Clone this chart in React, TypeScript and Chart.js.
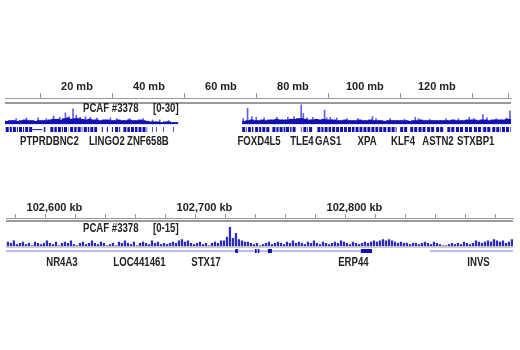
import React, { useEffect, useRef } from "react";
import { Chart, registerables } from "chart.js";
Chart.register(...registerables);

const FONT = "'Liberation Sans', Arial, Helvetica, sans-serif";
const TEXT_SQUEEZE = 0.8; // condensed look of the original lettering

// ---------- TOP PANEL (whole chromosome, mb) ----------
const TOP_X_MIN = 0;
const TOP_X_MAX = 140.6;
const TOP_MINOR_TICKS = [10, 30, 50, 70, 90, 110, 130, 140];
const TOP_LABEL_TICKS = [20, 40, 60, 80, 100, 120];
const TOP_TRACK = "PCAF #3378";
const TOP_DATA_RANGE = "[0-30]";
// 1 mb bins starting at 0 mb
const TOP_SIGNAL = [
  4, 5, 5, 4, 5, 6, 5, 5, 4, 5,
  5, 5, 6, 7, 7, 6, 8, 9, 7, 8,
  8, 7, 6, 7, 6, 6, 5, 6, 6, 5,
  5, 6, 5, 5, 6, 5, 5, 6, 5, 4,
  3, 3, 3, 2, 3, 3, 2, 2,
  null, null, null, null, null, null, null, null, null, null, null, null, null, null, null, null, null, null,
  4, 5, 6, 5,
  5, 6, 5, 6, 6, 7, 6, 6, 6, 7,
  7, 8, 8, 7, 6, 6, 7, 6, 7, 6,
  6, 6, 5, 5, 6, 5, 5, 5, 6, 5,
  5, 6, 5, 5, 5, 4, 5, 5, 5, 5,
  5, 5, 4, 5, 5, 6, 5, 5, 5, 5,
  5, 5, 5, 5, 6, 5, 5, 5, 6, 6,
  6, 5, 6, 6, 5, 6, 6, 6, 6, 7, 7,
];
// narrow peaks: [mb, value]
const TOP_PEAKS = [
  [3.1, 8], [6.0, 9], [9.2, 9], [11.5, 8], [13.5, 12], [15.2, 10], [16.8, 17], [17.7, 11],
  [18.9, 23], [19.8, 13], [20.9, 10], [22.4, 11], [23.7, 10], [25.5, 9], [29.3, 9], [31.0, 8],
  [34.6, 8], [38.4, 8], [41.0, 6], [43.0, 6], [45.5, 5],
  [66.2, 8], [67.4, 24], [68.6, 11], [69.8, 10], [72.0, 9], [75.5, 10], [78.6, 10], [80.3, 11],
  [82.3, 29], [82.9, 16], [83.9, 9], [85.5, 10], [88.8, 21], [89.4, 9], [90.4, 10], [92.2, 9],
  [95.0, 8], [98.0, 8], [102.1, 11], [103.1, 8], [107.0, 8], [111.0, 7], [114.0, 10], [114.9, 8],
  [118.0, 7], [122.5, 8], [126.0, 8], [129.0, 10], [130.3, 8], [132.8, 14], [133.9, 9],
  [136.5, 8], [139.4, 9], [140.3, 20],
];
const TOP_GENES = [
  [0.2, 1.9], [2.2, 3.6], [3.9, 5.3], [5.6, 7.6],
  [10.8, 11.2],
  [12.6, 14.4], [14.7, 16.1], [16.4, 17.6],
  [18.1, 19.9], [20.2, 21.5],
  [21.9, 23.4], [23.7, 25.6],
  [26.9, 27.2], [28.3, 28.6], [29.7, 30.0],
  [30.6, 32.0],
  [32.9, 34.7], [35.0, 36.8], [37.1, 39.5],
  [40.9, 41.1], [42.0, 42.2], [43.9, 44.1], [46.7, 46.9],
  [65.9, 67.2], [67.5, 69.0], [69.5, 71.2], [71.5, 73.7], [74.3, 76.0], [76.3, 77.9], [78.1, 79.6], [79.9, 80.9],
  [82.2, 82.4], [82.9, 84.2], [84.5, 85.6],
  [86.8, 88.5], [88.8, 90.6], [90.9, 92.8], [93.1, 95.0], [95.3, 97.1], [97.4, 99.3], [99.6, 101.5],
  [101.8, 103.7], [104.0, 106.0], [106.3, 108.8],
  [109.8, 111.8],
  [112.6, 114.6], [114.9, 117.0], [117.3, 119.5], [119.8, 121.8],
  [122.9, 125.0], [125.3, 127.5], [127.8, 130.0], [130.3, 132.6], [132.9, 135.1], [135.4, 137.8], [138.1, 140.5],
];
const TOP_GENE_LINES = [[7.6, 10.4]];
const TOP_GENE_NAMES = ["PTPRD", "BNC2", "LINGO2", "ZNF658B", "FOXD4L5", "TLE4", "GAS1", "XPA", "KLF4", "ASTN2", "STXBP1"];
const TOP_GENE_LABEL_POS = [8.7, 16.9, 28.3, 39.7, 70.6, 82.5, 89.8, 100.6, 110.6, 120.3, 130.8];

// ---------- BOTTOM PANEL (zoomed region, kb) ----------
const BOT_X_MIN = 102567.7;
const BOT_X_MAX = 102905.7;
const BOT_MINOR_TICKS = [102574, 102594, 102614, 102634, 102654, 102674, 102694, 102714, 102734, 102754, 102774, 102794, 102814, 102834, 102854, 102874, 102894];
const BOT_LABEL_TICKS = [102600, 102700, 102800];
const BOT_TRACK = "PCAF #3378";
const BOT_DATA_RANGE = "[0-15]";
const BOT_SIGNAL_START = 102569; // kb, 2 kb bins
const BOT_SIGNAL = [
  3, 2, 4, 1, 2, 3, 1, 2, 0, 3, 2, 1, 2, 4, 2, 1, 3, 0, 2, 3,
  2, 4, 1, 0, 2, 3, 1, 2, 4, 2, 1, 3, 2, 0, 1, 2, 0, 3, 2, 4,
  2, 1, 3, 0, 2, 3, 2, 1, 4, 2, 3, 1, 2, 1, 2, 3, 2, 4, 5, 3,
  4, 2, 1, 2, 3, 1, 2, 0, 2, 3, 2, 4, 4, 7, 15, 6, 10, 5, 4, 3,
  3, 2, 1, 2, 0, 1, 2, 3, 1, 2, 3, 2, 1, 3, 2, 4, 2, 3, 2, 1,
  3, 2, 4, 2, 1, 3, 2, 1, 2, 3, 2, 4, 3, 2, 1, 3, 2, 1, 2, 3,
  2, 3, 4, 3, 4, 5, 4, 5, 4, 3, 2, 3, 2, 2, 1, 2, 2, 1, 2, 3,
  2, 1, 3, 2, 1, 0, 0, 1, 2, 1, 2, 1, 3, 2, 1, 2, 4, 3, 2, 3,
  4, 3, 5, 4, 3, 4, 2, 3, 5,
];
const BOT_EXONS = [
  [102720.5, 102722.3], [102733.7, 102734.8], [102735.6, 102736.6], [102742.3, 102745.0], [102804.3, 102811.7],
];
const BOT_GENE_LINES = [[102567.7, 102811.7], [102850.3, 102905.7]];
const BOT_GENE_NAMES = ["NR4A3", "LOC441461", "STX17", "ERP44", "INVS"];
const BOT_GENE_LABEL_POS = [102605, 102656.7, 102701, 102799.3, 102882.7];

const BLUE = "#1212b0";

const segs = (list: number[][], y: number) =>
  list.flatMap(([s, e]) => [{ x: s, y }, { x: e, y }, { x: e, y: null as any }]);

function squeezedText(ctx: CanvasRenderingContext2D, text: string, x: number, y: number, align: CanvasTextAlign) {
  ctx.save();
  ctx.translate(x, y);
  ctx.scale(TEXT_SQUEEZE, 1);
  ctx.textAlign = align;
  ctx.textBaseline = "middle";
  ctx.fillText(text, 0, 0);
  ctx.restore();
}

function decor(p: any) {
  return {
    id: "decor",
    beforeDatasetsDraw(chart: any) {
      const { ctx, chartArea: a, scales } = chart;
      ctx.save();
      ctx.fillStyle = "#9a9a9a";
      ctx.fillRect(a.left, a.top + p.ruleOffset, a.right - a.left, 2);
      if (p.baseline) {
        const y0 = Math.round(scales.y.getPixelForValue(0));
        ctx.fillStyle = "#cdcdcd";
        ctx.fillRect(a.left, y0, a.right - a.left, 2);
      }
      ctx.restore();
    },
    afterDraw(chart: any) {
      const { ctx, chartArea: a, scales } = chart;
      ctx.save();
      ctx.fillStyle = "#222";
      ctx.font = `bold 12px ${FONT}`;
      squeezedText(ctx, p.track, 83, a.top + 10.5, "left");
      squeezedText(ctx, p.range, 153, a.top + 10.5, "left");
      p.names.forEach((n: string, i: number) => {
        squeezedText(ctx, n, scales.x.getPixelForValue(p.namePos[i]), a.bottom + p.labelGap, "center");
      });
      ctx.restore();
    },
  };
}

function xScale(min: number, max: number, minor: number[], labels: number[], unit: string, tickLength: number, fmt: (v: number) => string) {
  return {
    type: "linear",
    position: "top",
    min,
    max,
    offset: false,
    afterBuildTicks: (s: any) => {
      s.ticks = [...minor, ...labels].sort((a, b) => a - b).map((v) => ({ value: v }));
    },
    grid: {
      offset: false,
      drawOnChartArea: false,
      drawTicks: true,
      tickLength,
      lineWidth: 1,
      color: (c: any) => (c.tick && labels.includes(c.tick.value) ? "rgba(0,0,0,0)" : "#999"),
    },
    border: { display: true, color: "#999", width: 1 },
    ticks: {
      autoSkip: false,
      maxRotation: 0,
      minRotation: 0,
      padding: 0,
      color: "#222",
      font: { family: FONT, size: 11, weight: "bold", lineHeight: 1.1 },
      callback: (v: number) => (labels.includes(v) ? `${fmt(v)} ${unit}` : ""),
    },
  };
}

function baseOptions(padding: any, x: any, yMin: number, yMax: number) {
  return {
    responsive: false,
    animation: false,
    devicePixelRatio: 1,
    events: [],
    layout: { padding },
    plugins: { legend: { display: false }, tooltip: { enabled: false } },
    scales: { x, y: { type: "linear", display: false, min: yMin, max: yMax } },
  };
}

function buildTop(canvas: HTMLCanvasElement) {
  const GENE_Y = -9;
  return new Chart(canvas, {
    type: "bar",
    data: {
      datasets: [
        {
          type: "line",
          data: segs(TOP_GENES, GENE_Y),
          borderColor: BLUE,
          borderWidth: 5,
          borderCapStyle: "butt",
          borderDash: [3, 1],
          pointRadius: 0,
          spanGaps: false,
          order: 0,
        } as any,
        {
          type: "line",
          data: segs(TOP_GENE_LINES, GENE_Y),
          borderColor: BLUE,
          borderWidth: 1,
          pointRadius: 0,
          spanGaps: false,
          order: 0,
        } as any,
        {
          type: "bar",
          data: TOP_SIGNAL.map((v, i) => ({ x: TOP_X_MIN + i + 0.5, y: v })),
          backgroundColor: BLUE,
          barThickness: 3.7,
          grouped: false,
          order: 1,
        } as any,
        {
          type: "bar",
          data: TOP_PEAKS.map(([x, y]) => ({ x, y })),
          backgroundColor: "rgba(30,30,205,0.7)",
          barThickness: 1,
          grouped: false,
          order: 2,
        } as any,
      ],
    },
    options: baseOptions(
      { left: 5, right: 9, top: 80.9, bottom: 41 },
      xScale(TOP_X_MIN, TOP_X_MAX, TOP_MINOR_TICKS, TOP_LABEL_TICKS, "mb", 5, (v) => String(v)),
      -15.75,
      39.75
    ) as any,
    plugins: [
      decor({ ruleOffset: 4, baseline: false, track: TOP_TRACK, range: TOP_DATA_RANGE, names: TOP_GENE_NAMES, namePos: TOP_GENE_LABEL_POS, labelGap: 8 }),
    ],
  });
}

function buildBottom(canvas: HTMLCanvasElement) {
  const GENE_Y = -4.34;
  return new Chart(canvas, {
    type: "bar",
    data: {
      datasets: [
        {
          type: "line",
          data: segs(BOT_EXONS, GENE_Y),
          borderColor: BLUE,
          borderWidth: 4,
          borderCapStyle: "butt",
          pointRadius: 0,
          spanGaps: false,
          order: 0,
        } as any,
        {
          type: "line",
          data: segs(BOT_GENE_LINES, GENE_Y),
          borderColor: "#7b7bf2",
          borderWidth: 1,
          pointRadius: 0,
          spanGaps: false,
          order: 1,
        } as any,
        {
          type: "bar",
          data: BOT_SIGNAL.map((v, i) => ({ x: BOT_SIGNAL_START + 2 * i, y: v })),
          backgroundColor: "rgba(20,20,185,0.9)",
          barThickness: 1.6,
          grouped: false,
          order: 1,
        } as any,
      ],
    },
    options: baseOptions(
      { left: 6, right: 7, top: 26.9, bottom: 96 },
      xScale(BOT_X_MIN, BOT_X_MAX, BOT_MINOR_TICKS, BOT_LABEL_TICKS, "kb", 4, (v) => v.toLocaleString("en-US")),
      -6.7,
      22.5
    ) as any,
    plugins: [
      decor({ ruleOffset: 2, baseline: true, track: BOT_TRACK, range: BOT_DATA_RANGE, names: BOT_GENE_NAMES, namePos: BOT_GENE_LABEL_POS, labelGap: 9 }),
    ],
  });
}

function ChartCanvas({ build, top }: { build: (c: HTMLCanvasElement) => Chart; top: number }) {
  const ref = useRef<HTMLCanvasElement>(null);
  useEffect(() => {
    if (!ref.current) return;
    const chart = build(ref.current);
    return () => chart.destroy();
  }, [build]);
  return (
    <canvas
      ref={ref}
      width={520}
      height={175}
      style={{ position: "absolute", left: 0, top, width: 520, height: 175, display: "block" }}
    />
  );
}

export default function App() {
  return (
    <div style={{ position: "fixed", left: 0, top: 0, width: 520, height: 350, background: "#fff", overflow: "hidden" }}>
      <ChartCanvas build={buildTop} top={0} />
      <ChartCanvas build={buildBottom} top={175} />
    </div>
  );
}
